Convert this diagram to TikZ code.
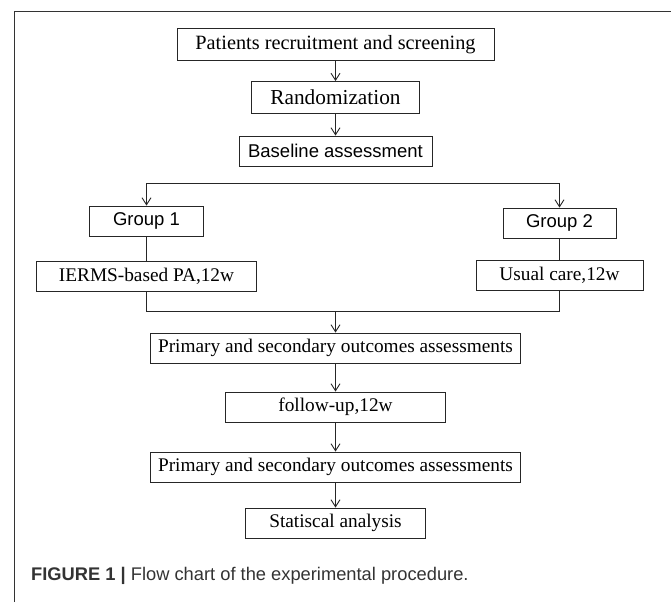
\documentclass[tikz,border=0pt]{standalone}
\usepackage{fontspec}
\setmainfont{Liberation Serif}
\setsansfont{Liberation Sans}
\usetikzlibrary{arrows.meta}
\tikzset{>={Straight Barb[length=7pt,width=9pt]}}
\colorlet{linecol}{black!85}
\colorlet{captcol}{black!80}
\tikzset{
  serifbox/.style={draw=linecol,line width=0.9pt,inner sep=0pt,
                   minimum height=30pt,font=\fontsize{19.3}{21}\selectfont},
  sansbox/.style={serifbox,font=\sffamily\fontsize{18.5}{20}\selectfont},
  flowline/.style={draw=linecol,line width=0.9pt},
  flow/.style={flowline,->}}

\begin{document}
\begin{tikzpicture}[x=1pt,y=-1pt]
  \def\xm{335.5}   % middle column
  \def\xl{146.5}   % left column (group 1)
  \def\xr{559.5}   % right column (group 2)
  \def\ysplit{183} % height of split line
  \def\ymerge{311} % height of merge line
  \useasboundingbox (0,0) rectangle (671,602);

  % FRAME
  \draw[line width=1pt,black!80] (14,602) -- (14,12) -- (671,12);

  % BOXES
  \node[serifbox,minimum width=317pt,minimum height=32pt,font=\fontsize{20.3}{22}\selectfont]
    (recruit) at (\xm,44.5) {Patients recruitment and screening};
  \node[serifbox,minimum width=168pt,minimum height=32pt,font=\fontsize{21.3}{23}\selectfont]
    (random) at (\xm,97.5) {Randomization};
  \node[sansbox,minimum width=193pt] (baseline) at (\xm,151) {Baseline assessment};
  \node[sansbox,minimum width=114pt] (group1) at (\xl,221) {Group 1};
  \node[sansbox,minimum width=113pt] (group2) at (\xr,223) {Group 2};
  \node[serifbox,minimum width=220pt] (ierms) at (\xl,276) {IERMS-based PA,12w};
  \node[serifbox,minimum width=167pt] (usual) at (\xr,275) {Usual care,12w};
  \node[serifbox,minimum width=370pt] (outcome1) at (\xm,348) {Primary and secondary outcomes assessments};
  \node[serifbox,minimum width=220pt] (followup) at (\xm,407) {follow-up,12w};
  \node[serifbox,minimum width=370pt] (outcome2) at (\xm,467) {Primary and secondary outcomes assessments};
  \node[serifbox,minimum width=180pt] (analysis) at (\xm,523) {Statiscal analysis};

  % CAPTION
  \node[anchor=west,inner sep=0pt,text=captcol,font=\sffamily\fontsize{18.3}{20}\selectfont]
    (caption) at (31,576) {\textbf{FIGURE 1 |} Flow chart of the experimental procedure.};

  % LINES
  \coordinate (splitL) at (\xl,\ysplit);  % left end split
  \coordinate (splitR) at (\xr,\ysplit);  % right end split
  \coordinate (mergeL) at (\xl,\ymerge);  % left end merge
  \coordinate (mergeR) at (\xr,\ymerge);  % right end merge
  \coordinate (mergeM) at (\xm,\ymerge);  % middle of merge
  \draw[flow] (recruit) -- (random);
  \draw[flow] (random) -- (baseline);
  \draw[flowline] (splitL) -- (splitR);
  \draw[flow] (splitL) -- (group1);
  \draw[flow] (splitR) -- (group2);
  \draw[flowline] (group1) -- (ierms);
  \draw[flowline] (group2) -- (usual);
  \draw[flowline] (ierms) -- (mergeL) -- (mergeR) -- (usual);
  \draw[flow] (mergeM) -- (outcome1);
  \draw[flow] (outcome1) -- (followup);
  \draw[flow] (followup) -- (outcome2);
  \draw[flow] (outcome2) -- (analysis);

\end{tikzpicture}
\end{document}
